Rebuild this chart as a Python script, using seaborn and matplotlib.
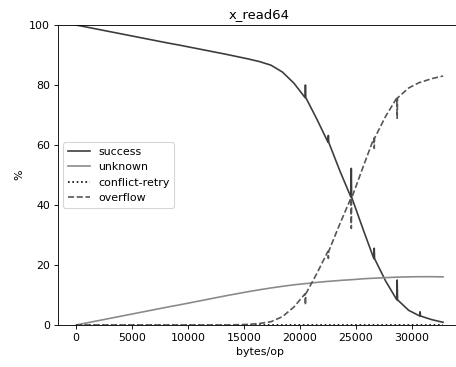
import matplotlib
matplotlib.use("Agg")
import matplotlib.pyplot as plt
import seaborn as sns
import pandas as pd

# ---- data ----
bytes_op = [0, 1024, 2048, 3072, 4096, 5120, 6144, 7168, 8192, 9216, 10240, 11264,
            12288, 13312, 14336, 15360, 16384, 17408, 18432, 19456,
            20448, 20480, 20512, 21504, 22496, 22528, 22560, 23552,
            24544, 24576, 24608, 25600, 26592, 26624, 26656, 27648,
            28640, 28672, 28704, 29696, 30688, 30720, 30752, 31744, 32768]

success = [100, 99.25, 98.5, 97.75, 97.0, 96.25, 95.5, 94.75, 94.0, 93.3, 92.55, 91.8,
           91.05, 90.3, 89.5, 88.7, 87.8, 86.6, 84.3, 80.6,
           75.8, 80.0, 75.8, 68.6, 60.9, 63.2, 60.9, 51.4,
           42.6, 52.2, 42.6, 32.2, 22.1, 25.6, 22.1, 14.6,
           8.4, 15.0, 8.4, 4.9, 3.0, 4.4, 3.0, 1.8, 0.9]

unknown = [0, 0.75, 1.5, 2.25, 3.0, 3.75, 4.5, 5.25, 6.0, 6.7, 7.45, 8.2,
           8.95, 9.7, 10.4, 11.1, 11.75, 12.35, 12.9, 13.4,
           13.8, 13.8, 13.8, 14.2, 14.55, 14.55, 14.55, 14.85,
           15.1, 15.1, 15.1, 15.4, 15.6, 15.6, 15.6, 15.8,
           15.95, 15.95, 15.95, 16.05, 16.1, 16.1, 16.1, 16.1, 16.05]

conflict_retry = [0] * len(bytes_op)

overflow = [0, 0, 0, 0, 0, 0, 0, 0, 0, 0, 0, 0,
            0, 0, 0.1, 0.2, 0.5, 1.1, 2.8, 6.0,
            10.4, 6.7, 10.4, 17.2, 24.6, 22.2, 24.6, 33.7,
            42.3, 32.2, 42.3, 52.4, 62.3, 58.9, 62.3, 69.6,
            75.7, 68.9, 75.7, 79.0, 80.9, 80.9, 80.9, 82.1, 83.0]

series_names = ["success", "unknown", "conflict-retry", "overflow"]
series_values = [success, unknown, conflict_retry, overflow]

rows = []
for name, vals in zip(series_names, series_values):
    for x, v in zip(bytes_op, vals):
        rows.append({"bytes/op": x, "%": v, "status": name})
df = pd.DataFrame(rows)

palette = {"success": "#3c3c3c", "unknown": "#8a8a8a",
           "conflict-retry": "#000000", "overflow": "#555555"}
dashes = {"success": "", "unknown": "",
          "conflict-retry": (1, 1.65), "overflow": (3.7, 1.6)}

DPI = 79
fig = plt.figure(figsize=(456 / DPI, 367 / DPI), dpi=DPI)
ax = fig.add_axes([57.7 / 456, 42 / 367, (461.4 - 57.7) / 456, 300 / 367])

sns.lineplot(data=df, x="bytes/op", y="%", hue="status", style="status",
             hue_order=series_names, style_order=series_names,
             palette=palette, dashes=dashes, linewidth=1.5,
             estimator=None, sort=True, ax=ax)

ax.set_ylim(0, 100)
ax.spines["right"].set_visible(False)
ax.set_title("x_read64")
ax.set_xlabel("bytes/op")
ax.set_ylabel("%")
sns.move_legend(ax, "center left", title=None)

fig.savefig("out.png", dpi=DPI)
